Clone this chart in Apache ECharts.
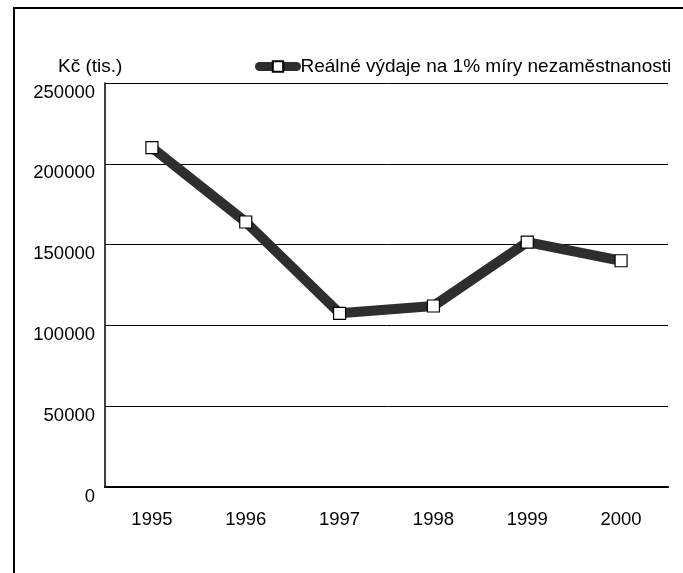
<!DOCTYPE html>
<html>
<head>
<meta charset="utf-8">
<script src="https://cdn.jsdelivr.net/npm/echarts@6/dist/echarts.min.js"></script>
<style>
html,body{margin:0;padding:0;background:#fff;}
#c{width:683px;height:573px;}
</style>
</head>
<body>
<div id="c"></div>
<script>
const years = ['1995','1996','1997','1998','1999','2000'];
const realSpending = [210000, 164000, 107500, 112000, 151500, 140000];
const yTicks = {min: 0, max: 250000, interval: 50000};
const seriesName = 'Reálné výdaje na 1% míry nezaměstnanosti';
const unitLabel = 'Kč (tis.)';

const font = 'Liberation Sans, Arial, Helvetica, sans-serif';
const chart = echarts.init(document.getElementById('c'), null, {renderer: 'canvas'});
chart.setOption({
  animation: false,
  backgroundColor: '#fff',
  title: {
    text: unitLabel, left: 53, top: 52,
    textStyle: {fontFamily: font, fontSize: 19, fontWeight: 'normal', color: '#000'}
  },
  legend: {
    left: 250, top: 52,
    itemWidth: 37, itemHeight: 13, itemGap: 5,
    lineStyle: {width: 9, cap: 'round'},
    textStyle: {fontFamily: font, fontSize: 19, color: '#000', padding: [0,0,0,-1]},
    data: [seriesName]
  },
  grid: {left: 105, right: 15, top: 83, bottom: 86},
  xAxis: {
    type: 'category', data: years, boundaryGap: true,
    axisLine: {lineStyle: {color: '#000', width: 2}},
    axisTick: {inside: true, length: 8, lineStyle: {color: '#000', width: 2}},
    axisLabel: {margin: 23, fontFamily: font, fontSize: 18.5, color: '#000'}
  },
  yAxis: {
    type: 'value', min: yTicks.min, max: yTicks.max, interval: yTicks.interval,
    axisLine: {show: true, lineStyle: {color: '#000', width: 1.5}},
    axisTick: {show: false},
    splitLine: {lineStyle: {color: '#000', width: 1}},
    axisLabel: {margin: 10, fontFamily: font, fontSize: 18.5, color: '#000', verticalAlign: 'top',
      formatter: v => String(v)}
  },
  graphic: [
    {type: 'line', shape: {x1: 13, y1: 8, x2: 683, y2: 8}, style: {stroke: '#000', lineWidth: 2}},
    {type: 'line', shape: {x1: 14, y1: 7, x2: 14, y2: 573}, style: {stroke: '#000', lineWidth: 2}}
  ],
  series: [{
    name: seriesName, type: 'line', data: realSpending,
    lineStyle: {color: '#2e2e2e', width: 10},
    symbol: 'rect', symbolSize: 12, showSymbol: true,
    itemStyle: {color: '#fff', borderColor: '#000', borderWidth: 1.2},
    z: 5
  }]
});
</script>
</body>
</html>
